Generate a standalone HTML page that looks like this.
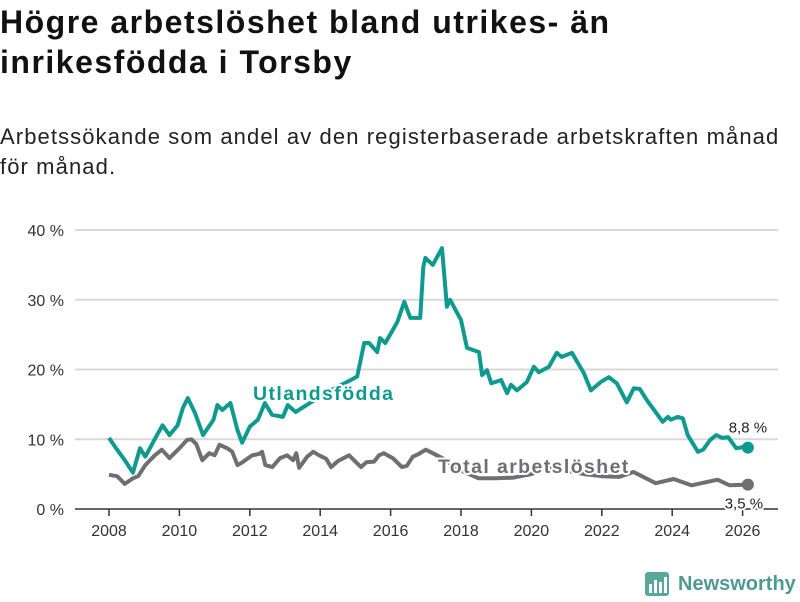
<!DOCTYPE html>
<html><head><meta charset="utf-8"><style>
body{margin:0;width:800px;height:600px;background:#fff;overflow:hidden;font-family:"Liberation Sans",sans-serif}
h1{position:absolute;left:0;top:2px;margin:0;font-size:32px;letter-spacing:1.5px;line-height:40px;font-weight:bold;color:#111;width:800px;white-space:nowrap}
p{position:absolute;left:0;top:122px;margin:0;font-size:22px;letter-spacing:1.1px;line-height:30px;color:#222;width:800px;white-space:nowrap}
svg{position:absolute;left:0;top:0}
</style></head><body>
<h1>Högre arbetslöshet bland utrikes- än<br>inrikesfödda i Torsby</h1>
<p>Arbetssökande som andel av den registerbaserade arbetskraften månad<br>för månad.</p>
<svg id="chart" width="800" height="600"></svg>
<script>
const yTicks=[0,10,20,30,40];
const xTicks=[2008,2010,2012,2014,2016,2018,2020,2022,2024,2026];
const foreignDates=[2008.0,2008.23,2008.45,2008.68,2008.88,2009.03,2009.33,2009.52,2009.72,2009.95,2010.1,2010.24,2010.44,2010.67,2010.97,2011.08,2011.22,2011.45,2011.65,2011.78,2012.0,2012.23,2012.43,2012.63,2012.94,2013.08,2013.3,2013.8,2014.3,2014.87,2015.05,2015.25,2015.39,2015.62,2015.7,2015.85,2016.19,2016.39,2016.56,2016.84,2016.93,2016.99,2017.2,2017.46,2017.6,2017.69,2017.88,2018.0,2018.17,2018.51,2018.6,2018.74,2018.86,2019.14,2019.31,2019.42,2019.59,2019.87,2020.07,2020.21,2020.5,2020.72,2020.86,2021.15,2021.49,2021.69,2021.97,2022.2,2022.43,2022.71,2022.91,2023.08,2023.28,2023.73,2023.88,2023.96,2024.16,2024.3,2024.44,2024.73,2024.88,2025.08,2025.25,2025.42,2025.59,2025.82,2026.05,2026.15];
const foreignValues=[10.2,8.5,7,5.2,8.7,7.5,10.3,12,10.6,12,14.5,15.9,13.8,10.6,12.8,14.9,14.2,15.2,11.3,9.5,11.8,12.8,15.2,13.5,13.2,14.9,13.9,15.5,17,18.5,19,23.8,23.8,22.5,24.5,23.8,26.8,29.7,27.4,27.4,34.7,36,35,37.4,29,30,28.2,27.1,23.1,22.5,19.2,19.9,18,18.5,16.6,17.8,17,18.2,20.4,19.6,20.4,22.4,21.8,22.4,19.5,17,18.2,18.9,18,15.3,17.3,17.2,15.6,12.5,13.2,12.8,13.2,13,10.6,8.2,8.5,9.9,10.6,10.2,10.3,8.7,8.9,8.8];
const totalDates=[2008.0,2008.23,2008.45,2008.68,2008.83,2009.03,2009.3,2009.5,2009.72,2010.0,2010.22,2010.34,2010.48,2010.65,2010.85,2011.0,2011.14,2011.36,2011.5,2011.65,2011.79,2012.07,2012.27,2012.35,2012.44,2012.64,2012.86,2013.06,2013.23,2013.32,2013.4,2013.63,2013.8,2013.97,2014.17,2014.31,2014.51,2014.82,2014.96,2015.16,2015.31,2015.53,2015.67,2015.81,2016.06,2016.32,2016.46,2016.63,2016.8,2017.0,2017.2,2017.5,2018.0,2018.5,2019.0,2019.5,2020.0,2020.5,2021.0,2021.5,2022.0,2022.5,2022.9,2023.53,2024.04,2024.55,2025.29,2025.63,2026.15];
const totalValues=[4.9,4.7,3.6,4.4,4.7,6.3,7.7,8.5,7.3,8.7,9.9,10,9.3,7,8,7.7,9.2,8.7,8.2,6.3,6.7,7.7,7.9,8.2,6.3,6,7.3,7.7,7,8,5.9,7.5,8.2,7.7,7.2,6,6.9,7.7,7,6,6.7,6.8,7.7,8,7.3,6,6.2,7.5,7.9,8.5,8,7.2,5.5,4.4,4.4,4.5,5.0,6.0,5.5,5.0,4.7,4.6,5.3,3.7,4.3,3.4,4.2,3.4,3.5];
const NS='http://www.w3.org/2000/svg';
const svg=document.getElementById('chart');
const X=v=>109+(v-2008)*35.2;
const Y=v=>509-v*6.975;
function mk(t,a,txt){const e=document.createElementNS(NS,t);for(const k in a)e.setAttribute(k,a[k]);if(txt!=null)e.textContent=txt;svg.appendChild(e);return e;}
yTicks.forEach(v=>{
  if(v>0){const g=mk('line',{x1:75,x2:778,y1:Y(v),y2:Y(v),stroke:'#d9d9d9','stroke-width':2});
  
  }
  const t=mk('text',{x:64,y:Y(v)+6,'text-anchor':'end','font-size':16,fill:'#333'},v+' %');
  
  
});
const ax=mk('line',{x1:75,x2:778,y1:509,y2:509,stroke:'#333','stroke-width':1.5});


xTicks.forEach(v=>{
  const l=mk('line',{x1:X(v),x2:X(v),y1:509,y2:516,stroke:'#333','stroke-width':1.5});
  
  
  const t=mk('text',{x:X(v),y:536,'text-anchor':'middle','font-size':16,fill:'#333'},v);
  
  
});
function path(d,v){return d.map((x,i)=>(i?'L':'M')+X(x).toFixed(1)+','+Y(v[i]).toFixed(1)).join('');}
const pt=mk('path',{d:path(totalDates,totalValues),fill:'none',stroke:'#6e6e73','stroke-width':4,'stroke-linejoin':'round'});


const pf=mk('path',{d:path(foreignDates,foreignValues),fill:'none',stroke:'#0f9a8f','stroke-width':4,'stroke-linejoin':'round'});


const lf=foreignDates.length-1, lt=totalDates.length-1;
const d1=mk('circle',{cx:X(foreignDates[lf]),cy:Y(foreignValues[lf]),r:6,fill:'#0f9a8f'});


const d2=mk('circle',{cx:X(totalDates[lt]),cy:Y(totalValues[lt]),r:6,fill:'#6e6e73'});


const halo={stroke:'#fff','stroke-width':4,'paint-order':'stroke','stroke-linejoin':'round'};
const e1=mk('text',Object.assign({x:X(foreignDates[lf]),y:Y(foreignValues[lf])-15,'text-anchor':'middle','font-size':15,fill:'#222'},halo),foreignValues[lf].toString().replace('.',',')+' %');


const e2=mk('text',Object.assign({x:X(totalDates[lt])-4,y:Y(totalValues[lt])+24,'text-anchor':'middle','font-size':15,fill:'#222'},halo),totalValues[lt].toString().replace('.',',')+' %');


const s1=mk('text',Object.assign({x:253,y:400,'font-size':19.5,'font-weight':'bold',fill:'#0f9a8f','letter-spacing':1.4},halo),'Utlandsfödda');


const s2=mk('text',Object.assign({x:438,y:473,'font-size':19.5,'font-weight':'bold',fill:'#6e6e73','letter-spacing':1.4},halo),'Total arbetslöshet');


</script>
<svg width="160" height="36" style="left:640px;top:566px">
<rect x="5" y="6" width="24" height="24" rx="3" fill="#5aa79a"/>
<rect x="9" y="18" width="3" height="9" fill="#fff"/><rect x="14" y="14" width="3" height="13" fill="#fff"/><rect x="19" y="16" width="3" height="11" fill="#fff"/><rect x="24" y="11" width="3" height="16" fill="#fff"/>
<text x="38" y="24" font-size="20" font-weight="bold" fill="#4f9a90" font-family="Liberation Sans, sans-serif">Newsworthy</text>
</svg>
</body></html>
